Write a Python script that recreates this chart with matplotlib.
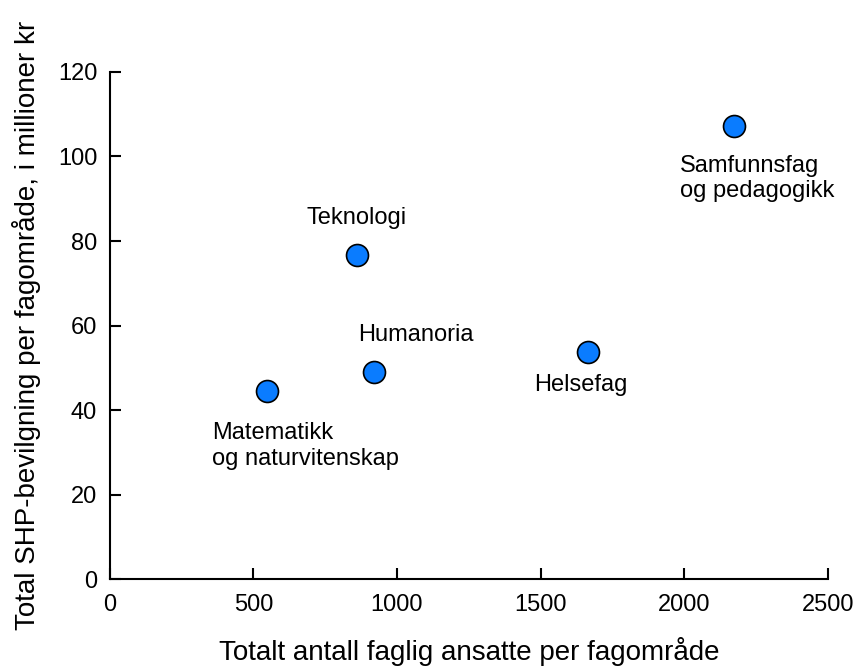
import matplotlib.pyplot as plt

plt.rcParams['font.family'] = ['Liberation Sans', 'DejaVu Sans']

names = ['Matematikk\nog naturvitenskap', 'Teknologi', 'Humanoria', 'Helsefag', 'Samfunnsfag\nog pedagogikk']
ansatte = [547, 860, 919, 1664, 2173]
bevilgning = [44.5, 76.6, 49.1, 53.7, 107.1]
# label anchor (left edge, vertical centre) for each point
label_x = [355, 685, 866, 1476, 1984]
label_y = [31.5, 85.4, 57.8, 45.9, 94.8]

fig = plt.figure(figsize=(8.57, 6.66), dpi=100)
ax = fig.add_axes([0.128, 0.1306, 0.838, 0.7613])

ax.scatter(ansatte, bevilgning, s=250, color='#0A7CFF', edgecolors='black', linewidths=1.2, zorder=3)
for n, lx, ly in zip(names, label_x, label_y):
    ax.text(lx, ly, n, fontsize=17, ha='left', va='center', linespacing=1.22)

ax.set_xlim(0, 2500)
ax.set_ylim(0, 120)
ax.set_xticks([0, 500, 1000, 1500, 2000, 2500])
ax.set_yticks([0, 20, 40, 60, 80, 100, 120])
ax.spines['top'].set_visible(False)
ax.spines['right'].set_visible(False)
ax.spines['left'].set_linewidth(1.5)
ax.spines['bottom'].set_linewidth(1.5)
ax.tick_params(direction='in', length=8, width=1.5, labelsize=17, pad=9)
ax.tick_params(axis='x', pad=11)

ax.set_xlabel('Totalt antall faglig ansatte per fagområde', fontsize=20, labelpad=15)
ax.set_ylabel('Total SHP-bevilgning per fagområde, i millioner kr', fontsize=20, labelpad=12)

plt.savefig('out.png')
